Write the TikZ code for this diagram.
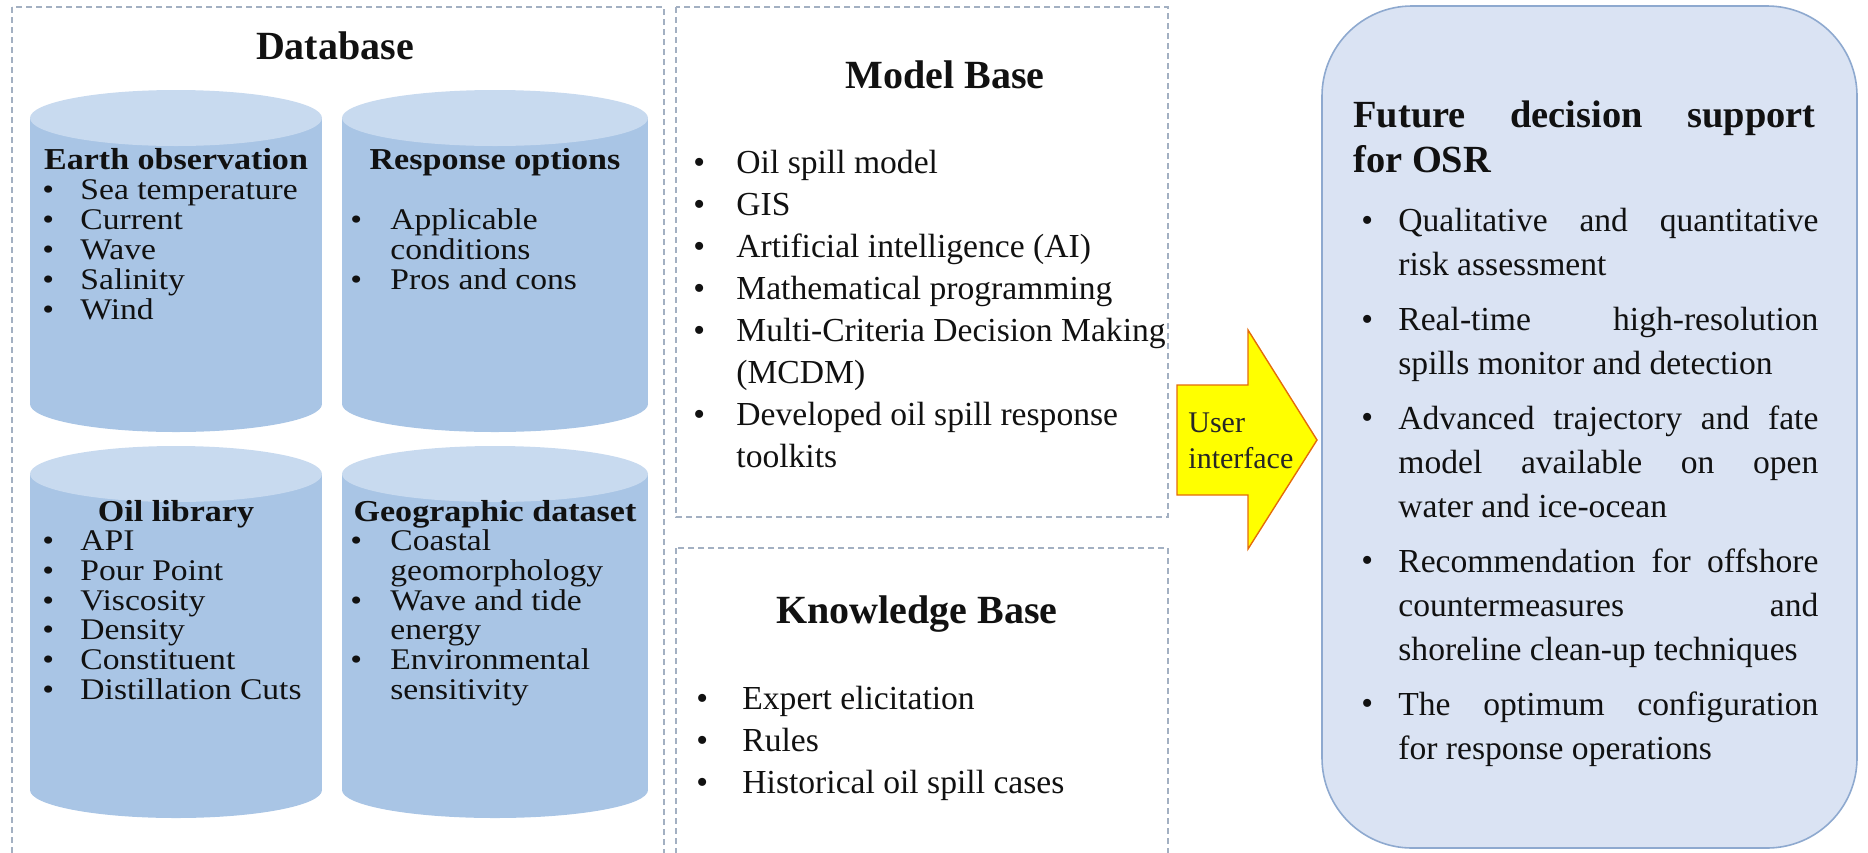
\documentclass[tikz,border=0pt]{standalone}
\usepackage{fontspec}
\setmainfont{Liberation Serif}
\newfontfamily\cylfont{Liberation Serif}[FakeStretch=1.12]
\definecolor{framegray}{HTML}{A3B0C2}
\definecolor{cylbody}{HTML}{A9C5E5}
\definecolor{cyltop}{HTML}{C8DAEF}
\definecolor{panelfill}{HTML}{DAE3F3}
\definecolor{paneledge}{HTML}{8EA9CF}
\definecolor{arrowfill}{HTML}{FFFF00}
\definecolor{arrowedge}{HTML}{E46C0A}
\definecolor{inktext}{HTML}{111111}
\begin{document}
\begin{tikzpicture}[x=0.5pt,y=-0.5pt,
  frame/.style={draw=framegray, line width=0.8pt, dash pattern=on 3pt off 2pt},
  itm/.style={font=\fontsize{16.8}{20}\selectfont, text=inktext, inner sep=0pt, anchor=base west},
  citm/.style={font=\cylfont\fontsize{15}{18}\selectfont, text=inktext, inner sep=0pt, anchor=base west},
  hd/.style={font=\cylfont\bfseries\fontsize{15.2}{18}\selectfont, text=inktext, inner sep=0pt, anchor=base},
  ttl/.style={font=\bfseries\fontsize{20}{24}\selectfont, text=inktext, inner sep=0pt, anchor=base},
  para/.style={font=\fontsize{16.8}{22}\selectfont, text=inktext, inner sep=0pt,
    anchor=north west, text width=210pt, align=justify},
  uitext/.style={font=\fontsize{15}{18}\selectfont, text=black!85, inner sep=0pt, anchor=base west}]
\useasboundingbox (0,0) rectangle (1868,852);
\clip (0,0) rectangle (1868,852);

% ---------- dashed frames ----------
\draw[frame] (12,7) rectangle (664,880);
\draw[frame] (676,7) rectangle (1168,517);
\draw[frame] (676,548) rectangle (1168,880);

% ---------- database cylinders ----------
% upper left
\fill[cylbody] (30,118) rectangle (322,404);
\fill[cylbody] (176,404) ellipse [x radius=146, y radius=28];
\fill[cyltop]  (176,118) ellipse [x radius=146, y radius=28];
% upper right
\fill[cylbody] (342,118) rectangle (648,404);
\fill[cylbody] (495,404) ellipse [x radius=153, y radius=28];
\fill[cyltop]  (495,118) ellipse [x radius=153, y radius=28];
% lower left
\fill[cylbody] (30,474) rectangle (322,790);
\fill[cylbody] (176,790) ellipse [x radius=146, y radius=28];
\fill[cyltop]  (176,474) ellipse [x radius=146, y radius=28];
% lower right
\fill[cylbody] (342,474) rectangle (648,790);
\fill[cylbody] (495,790) ellipse [x radius=153, y radius=28];
\fill[cyltop]  (495,474) ellipse [x radius=153, y radius=28];

\node[ttl] (dbtitle) at (335,59) {Database};

% Earth observation
\node[hd] (eoHead) at (176,169) {Earth observation};
\foreach \t [count=\i] in {Sea temperature,Current,Wave,Salinity,Wind}{
  \node[citm] (eoB\i) at (42,{169+30*\i}) {\textbullet};
  \node[citm] (eoT\i) at (80,{169+30*\i}) {\t};
}
% Response options
\node[hd] (roHead) at (495,169) {Response options};
\node[citm] (roB1) at (350,229) {\textbullet};
\node[citm] (roT1) at (390,229) {Applicable};
\node[citm] (roT1b) at (390,259) {conditions};
\node[citm] (roB2) at (350,289) {\textbullet};
\node[citm] (roT2) at (390,289) {Pros and cons};
% Oil library
\node[hd] (olHead) at (176,521) {Oil library};
\foreach \t [count=\i] in {API,Pour Point,Viscosity,Density,Constituent,Distillation Cuts}{
  \node[citm] (olB\i) at (42,{521+29.7*\i}) {\textbullet};
  \node[citm] (olT\i) at (80,{521+29.7*\i}) {\t};
}
% Geographic dataset
\node[hd] (gdHead) at (495,521) {Geographic dataset};
\node[citm] (gdB1) at (350,550.7) {\textbullet};
\node[citm] (gdT1) at (390,550.7) {Coastal};
\node[citm] (gdT1b) at (390,580.4) {geomorphology};
\node[citm] (gdB2) at (350,610.1) {\textbullet};
\node[citm] (gdT2) at (390,610.1) {Wave and tide};
\node[citm] (gdT2b) at (390,639.8) {energy};
\node[citm] (gdB3) at (350,669.5) {\textbullet};
\node[citm] (gdT3) at (390,669.5) {Environmental};
\node[citm] (gdT3b) at (390,699.2) {sensitivity};

% ---------- model base ----------
\node[ttl] (mbtitle) at (945,88) {Model Base};
\node[itm] (mbB1) at (693,173) {\textbullet};
\node[itm] (mbT1) at (736,173) {Oil spill model};
\node[itm] (mbB2) at (693,215) {\textbullet};
\node[itm] (mbT2) at (736,215) {GIS};
\node[itm] (mbB3) at (693,257) {\textbullet};
\node[itm] (mbT3) at (736,257) {Artificial intelligence (AI)};
\node[itm] (mbB4) at (693,299) {\textbullet};
\node[itm] (mbT4) at (736,299) {Mathematical programming};
\node[itm] (mbB5) at (693,341) {\textbullet};
\node[itm] (mbT5) at (736,341) {Multi-Criteria Decision Making};
\node[itm] (mbT5b) at (736,383) {(MCDM)};
\node[itm] (mbB6) at (693,425) {\textbullet};
\node[itm] (mbT6) at (736,425) {Developed oil spill response};
\node[itm] (mbT6b) at (736,467) {toolkits};

% ---------- knowledge base ----------
\node[ttl] (kbtitle) at (917,623) {Knowledge Base};
\node[itm] (kbB1) at (696,709) {\textbullet};
\node[itm] (kbT1) at (742,709) {Expert elicitation};
\node[itm] (kbB2) at (696,751) {\textbullet};
\node[itm] (kbT2) at (742,751) {Rules};
\node[itm] (kbB3) at (696,793) {\textbullet};
\node[itm] (kbT3) at (742,793) {Historical oil spill cases};

% ---------- user interface arrow ----------
\coordinate (uiTail) at (1177,440);
\coordinate (uiTip) at (1317,440);
\filldraw[fill=arrowfill, draw=arrowedge, line width=0.7pt, line join=miter]
  (uiTail |- 0,385) -- (1248,385) -- (1248,330) -- (uiTip) -- (1248,549)
  -- (1248,495) -- (uiTail |- 0,495) -- cycle;
\node[uitext] (uiUser) at (1188,432) {User};
\node[uitext] (uiIface) at (1188,468) {interface};

% ---------- future decision support panel ----------
\draw[fill=panelfill, draw=paneledge, line width=0.8pt, rounded corners=45pt]
  (1322,6) rectangle (1857,848);
\node[font=\bfseries\fontsize{19.2}{22.5}\selectfont, text=inktext, inner sep=0pt,
  anchor=north west, text width=231pt, align=justify]
  (fdTitle) at (1353,100) {\noindent Future decision support\linebreak for OSR};

\node[itm] (fdB1) at (1361,231) {\textbullet};
\node[para] (fdT1) at (1398,208) {\noindent Qualitative and quantitative\linebreak risk assessment};
\node[itm] (fdB2) at (1361,330) {\textbullet};
\node[para] (fdT2) at (1398,307) {\noindent Real-time high-resolution\linebreak spills monitor and detection};
\node[itm] (fdB3) at (1361,428) {\textbullet};
\node[para] (fdT3) at (1398,405) {\noindent Advanced trajectory and fate\linebreak model available on open\linebreak water and ice-ocean};
\node[itm] (fdB4) at (1361,571) {\textbullet};
\node[para] (fdT4) at (1398,548) {\noindent Recommendation for offshore\linebreak countermeasures and\linebreak shoreline clean-up techniques};
\node[itm] (fdB5) at (1361,714) {\textbullet};
\node[para] (fdT5) at (1398,691) {\noindent The optimum configuration\linebreak for response operations};
\end{tikzpicture}
\end{document}
